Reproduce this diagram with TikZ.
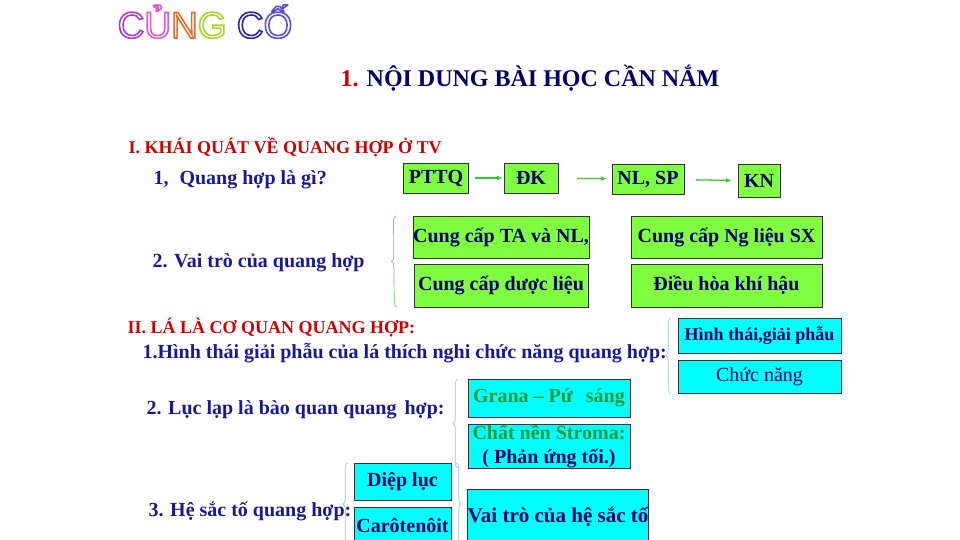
\documentclass[tikz,border=0pt]{standalone}
\usepackage{fontspec}
\setmainfont{Liberation Serif}
\newfontfamily\arialfont{Liberation Sans}
\usetikzlibrary{
	arrows.meta,									% 箭头样式
	decorations.pathreplacing,						% 花括号
	positioning,									% 节点摆放
}

\definecolor{navytext}{RGB}{0,0,102}
\definecolor{bluetext}{RGB}{25,25,150}
\definecolor{redtext}{RGB}{204,0,0}
\definecolor{boxlime}{RGB}{128,255,64}
\definecolor{boxcyan}{RGB}{0,255,255}
\definecolor{arrowgreen}{RGB}{51,204,51}
\definecolor{granagreen}{RGB}{40,150,60}
\definecolor{bracegreen}{RGB}{110,200,110}
\definecolor{bracecyan}{RGB}{150,205,205}
\definecolor{cvio}{RGB}{170,60,200}
\definecolor{cpink}{RGB}{225,90,200}
\definecolor{corange}{RGB}{225,110,40}
\definecolor{cyellow}{RGB}{170,210,40}
\definecolor{cnavy}{RGB}{40,40,160}
\definecolor{cblue}{RGB}{90,80,210}

% chu rong (vien mau, long trang)
\newcommand\chu[2]{\textcolor{#1}{\special{pdf:literal direct 1 1 1 rg 2 Tr 1.6 w}#2\special{pdf:literal direct 0 Tr}}}

\tikzset{
	lvbox/.style={draw=black!80, fill=boxlime, inner sep=0pt, text=navytext, font=\bfseries\fontsize{20}{22}\selectfont},
	xbox/.style={draw=black!80, fill=boxcyan, inner sep=0pt, text=navytext, align=center, font=\bfseries\fontsize{20}{24}\selectfont},
	dong/.style={anchor=west, text=bluetext, font=\bfseries\fontsize{20}{22}\selectfont},
	tieude/.style={anchor=west, text=redtext, font=\bfseries\fontsize{18}{20}\selectfont},
	muiten/.style={draw=arrowgreen, line width=1.3pt, -{Latex[length=6pt,width=5pt]}},
	ngoac/.style={decorate, decoration={brace, amplitude=5pt}, line width=0.7pt},
}

\begin{document}
\begin{tikzpicture}[x=1pt, y=-1pt]
	\useasboundingbox[fill=white] (0,0) rectangle (960,540);

	% tieu de
	\node[anchor=base, font=\arialfont\fontsize{37}{40}\selectfont] (cungco) at (205,38)
		{\chu{cvio}{C}\chu{cpink}{Ủ}\chu{corange}{N}\chu{cyellow}{G} \chu{cnavy}{C}\chu{cblue}{Ố}};
	\node[anchor=base, text=navytext, font=\bfseries\fontsize{24}{26}\selectfont] (noidung) at (530,87)
		{\textcolor{redtext}{1.} NỘI DUNG BÀI HỌC CẦN NẮM};

	% phan I
	\node[tieude] (phan1) at (125,147) {I. KHÁI QUÁT VỀ  QUANG HỢP Ở TV};
	\node[dong] (cau1) at (150,180) {1,\hspace{0.55em}Quang hợp là gì?};
	\node[lvbox, minimum width=65, minimum height=30] (pttq) at (436,178) {PTTQ};
	\node[lvbox, minimum width=54, minimum height=30] (dk) at (531,178) {ĐK};
	\node[lvbox, minimum width=72, minimum height=30] (nlsp) at (648,179) {NL, SP};
	\node[lvbox, minimum width=42, minimum height=33] (kn) at (759,181) {KN};
	\draw[muiten, shorten <=6pt, shorten >=1pt] (pttq) -- (dk);
	\draw[muiten, shorten <=19pt, shorten >=5pt] (dk) -- (nlsp);
	\draw[muiten, shorten <=12pt, shorten >=6pt] (nlsp) -- (kn);

	\node[dong] (cau2) at (149,263) {2. Vai trò của quang hợp};
	\node[lvbox, minimum width=174, minimum height=42] (thucan) at (501,237) {Cung cấp TA và NL,};
	\node[lvbox, minimum width=191, minimum height=42] (nglieu) at (726.5,237) {Cung cấp Ng liệu SX};
	\node[lvbox, minimum width=174, minimum height=43] (duoclieu) at (501,285.5) {Cung cấp dược liệu};
	\node[lvbox, minimum width=191, minimum height=43] (khihau) at (726.5,285.5) {Điều hòa khí hậu};
	\draw[ngoac, bracegreen] ([xshift=-17pt]duoclieu.south west) -- ([xshift=-17pt]thucan.north west);

	% phan II
	\node[tieude] (phan2) at (124,328) {II. LÁ LÀ CƠ QUAN QUANG HỢP:};
	\node[dong] (hinhthaila) at (139,353) {1.Hình thái giải phẫu của lá thích nghi chức năng quang hợp:};
	\node[xbox, minimum width=163, minimum height=35, font=\bfseries\fontsize{18}{22}\selectfont] (giaiphau) at (759.5,335.5) {Hình thái,giải phẫu};
	\node[xbox, minimum width=163, minimum height=33, font=\fontsize{20}{22}\selectfont] (chucnang) at (759.5,376.5) {Chức năng};
	\draw[ngoac, bracecyan] ([xshift=-7pt]chucnang.south west) -- ([xshift=-7pt]giaiphau.north west);

	\node[dong] (luclap) at (143,410) {2. Lục lạp là bào quan quang\hspace{0.15em} hợp:};
	\node[xbox, minimum width=162, minimum height=38, text=granagreen] (grana) at (549,398) {Grana – Pứ\hspace{0.4em} sáng};
	\node[xbox, minimum width=162, minimum height=44] (stroma) at (549,446)
		{\textcolor{granagreen}{Chất nền Stroma:}\\( Phản ứng tối.)};
	\draw[ngoac, bracecyan] ([xshift=-10pt]stroma.south west) -- ([xshift=-10pt]grana.north west);

	\node[dong] (hesacto) at (145,511) {3. Hệ sắc tố quang hợp:};
	\node[xbox, minimum width=97, minimum height=37] (dieplu) at (402.5,481.5) {Diệp lục};
	\node[xbox, minimum width=97, minimum height=38] (caroten) at (402.5,526) {Carôtenôit};
	\node[xbox, minimum width=180, minimum height=56, font=\bfseries\fontsize{21}{23}\selectfont] (vaitro) at (558,517) {Vai trò của hệ sắc tố};
	\draw[ngoac, bracecyan] ([xshift=-6pt]caroten.south west) -- ([xshift=-6pt]dieplu.north west);
	\draw[ngoac, bracecyan] ([xshift=5pt]dieplu.north east) -- ([xshift=5pt]caroten.south east);
\end{tikzpicture}
\end{document}
